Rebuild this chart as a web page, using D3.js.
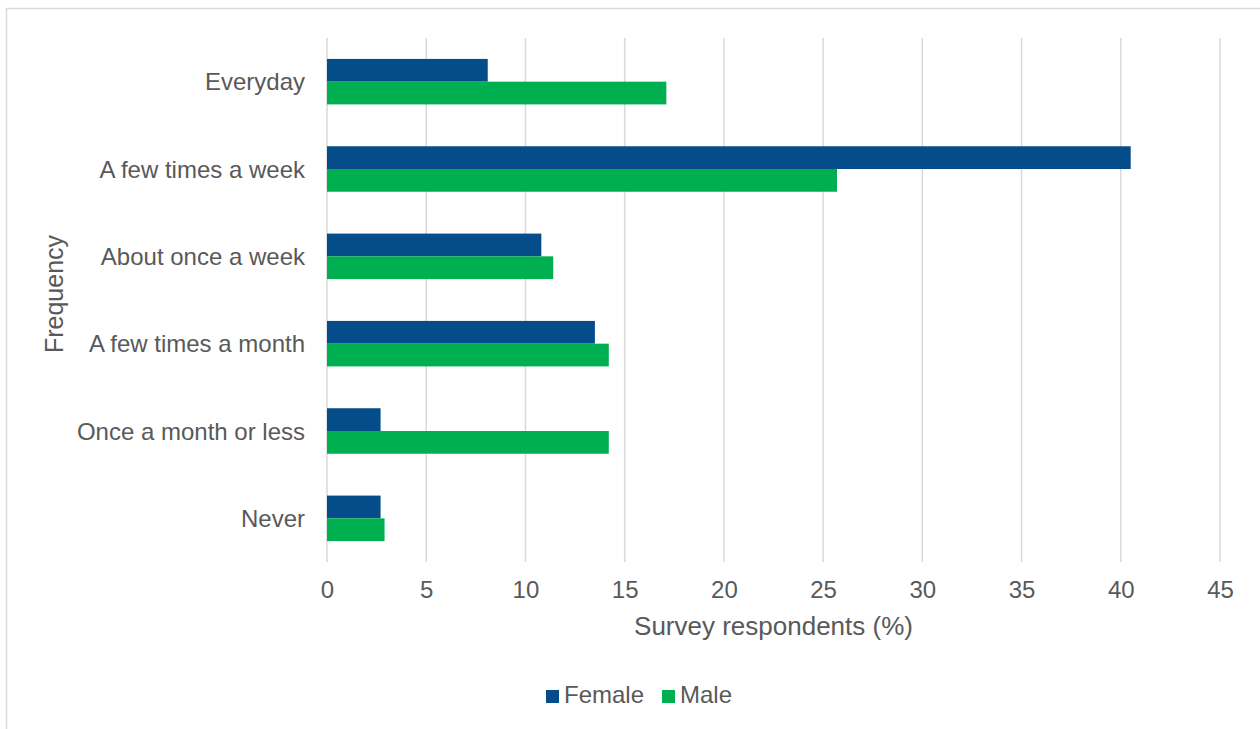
<!DOCTYPE html>
<html>
<head>
<meta charset="utf-8">
<script src="https://cdn.jsdelivr.net/npm/d3@7"></script>
<style>
  html, body { margin: 0; padding: 0; background: #fff; }
  svg { display: block; }
  text { font-family: "Liberation Sans", Arial, sans-serif; fill: #595959; }
</style>
</head>
<body>
<svg id="chart" width="1260" height="729"></svg>
<script>
// Survey: how often respondents do the activity, by gender (% of respondents)
const categories = ["Everyday", "A few times a week", "About once a week",
                    "A few times a month", "Once a month or less", "Never"];
const seriesNames = ["Female", "Male"];
const female = [8.1, 40.5, 10.8, 13.5, 2.7, 2.7];
const male   = [17.1, 25.7, 11.4, 14.2, 14.2, 2.9];
const xTicks = [0, 5, 10, 15, 20, 25, 30, 35, 40, 45];
const xTitle = "Survey respondents (%)";
const yTitle = "Frequency";

const colors = { Female: "#054C8A", Male: "#00B050" };
const values = { Female: female, Male: male };

const svg = d3.select("#chart");

// outer chart frame
svg.append("rect")
  .attr("x", 6.5).attr("y", 8.5)
  .attr("width", 1300).attr("height", 800)
  .attr("fill", "none").attr("stroke", "#d9d9d9").attr("stroke-width", 1.5);

const plot = { left: 327, right: 1220, top: 38, bottom: 562 };

const x = d3.scaleLinear().domain([0, 45]).range([plot.left, plot.right]);
const y = d3.scaleBand().domain(categories).range([plot.top, plot.bottom]).padding(0);
const groupH = y.bandwidth() / 1.92;
const inner = d3.scaleBand().domain(seriesNames).range([0, groupH]).padding(0);

// vertical gridlines
svg.append("g").selectAll("line").data(xTicks).join("line")
  .attr("x1", d => x(d)).attr("x2", d => x(d))
  .attr("y1", plot.top).attr("y2", plot.bottom)
  .attr("stroke", "#d9d9d9").attr("stroke-width", 1.5);

// bars
seriesNames.forEach(s => {
  svg.append("g").selectAll("rect").data(categories).join("rect")
    .attr("x", x(0))
    .attr("y", c => y(c) + (y.bandwidth() - groupH) / 2 + inner(s))
    .attr("width", (c, i) => x(values[s][i]) - x(0))
    .attr("height", inner.bandwidth())
    .attr("fill", colors[s]);
});

// x-axis tick labels
const xAxis = d3.axisBottom(x).tickValues(xTicks).tickSize(0).tickPadding(0);
const gx = svg.append("g").attr("transform", `translate(0,${plot.bottom})`).call(xAxis);
gx.select(".domain").remove();
gx.selectAll("text")
  .attr("dy", null).attr("y", 36)
  .style("font-size", "24px").style("font-family", "Liberation Sans, Arial, sans-serif")
  .attr("fill", "#595959");

// category labels
const yAxis = d3.axisLeft(y).tickSize(0).tickPadding(0);
const gy = svg.append("g").attr("transform", "translate(305,0)").call(yAxis);
gy.select(".domain").remove();
gy.selectAll("text")
  .attr("dy", "8.5")
  .style("font-size", "24px").style("font-family", "Liberation Sans, Arial, sans-serif")
  .attr("fill", "#595959");

// axis titles
svg.append("text")
  .attr("x", (plot.left + plot.right) / 2).attr("y", 635)
  .attr("text-anchor", "middle").style("font-size", "26px")
  .text(xTitle);

svg.append("text")
  .attr("transform", "translate(63,294) rotate(-90)")
  .attr("text-anchor", "middle").style("font-size", "25px")
  .text(yTitle);

// legend
const legendPos = [{ sx: 546, tx: 564 }, { sx: 662, tx: 680 }];
const legend = svg.append("g");
seriesNames.forEach((s, i) => {
  legend.append("rect")
    .attr("x", legendPos[i].sx).attr("y", 690)
    .attr("width", 13).attr("height", 13)
    .attr("fill", colors[s]);
  legend.append("text")
    .attr("x", legendPos[i].tx).attr("y", 703)
    .style("font-size", "24px")
    .text(s);
});
</script>
</body>
</html>
